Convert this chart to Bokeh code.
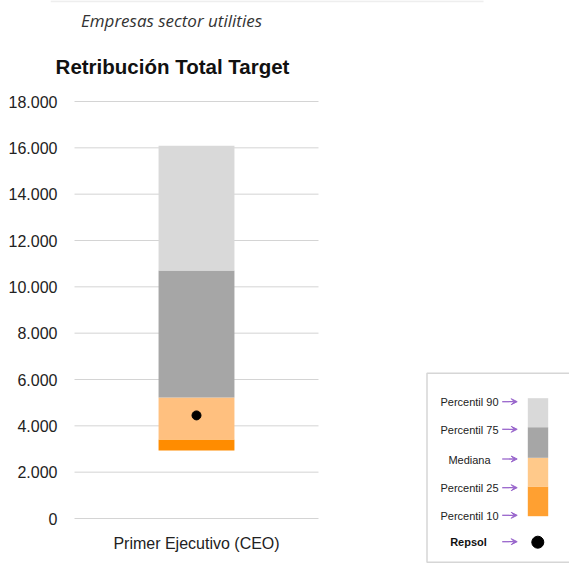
from bokeh.plotting import figure
from bokeh.models import Range1d, FixedTicker, Arrow, VeeHead, ColumnDataSource
from bokeh.core.properties import value
from bokeh.embed import file_html
from bokeh.resources import INLINE

# ---------------- data ----------------
category = ["Primer Ejecutivo (CEO)"]
percentile_names = ["Percentil 10", "Percentil 25", "Mediana", "Percentil 75", "Percentil 90"]
percentile_values = [2940, 3410, 5220, 10700, 16090]
repsol_value = [4450]
segment_colors = ["#ff8c00", "#ffc07f", "#a6a6a6", "#d9d9d9"]
legend_colors = ["#ffa031", "#ffc98a", "#a6a6a6", "#d9d9d9"]
y_ticks = [0, 2000, 4000, 6000, 8000, 10000, 12000, 14000, 16000, 18000]
y_tick_labels = ["0", "2.000", "4.000", "6.000", "8.000", "10.000", "12.000",
                 "14.000", "16.000", "18.000"]
legend_labels = ["Percentil 90", "Percentil 75", "Mediana", "Percentil 25", "Percentil 10", "Repsol"]
subtitle = "Empresas sector utilities"
title = "Retribución Total Target"

# ---------------- layout (pixels) ----------------
W, H = 569, 563
frame_left = 50
label_right = 57
chart_left, chart_right = 74, 318     # extent of the category band / gridlines
y0_px, y18_px = 518, 101              # pixel rows of value 0 and 18000
upp = 18000 / (y0_px - y18_px)        # value units per pixel
y_start = -(H - y0_px) * upp
y_end = 18000 + y18_px * upp
n = len(category)
xpp = n / (chart_right - chart_left)
x_start = -(chart_left - frame_left) * xpp
x_end = n + (W - chart_right) * xpp

p = figure(width=W, height=H, x_range=Range1d(x_start, x_end),
           y_range=Range1d(y_start, y_end), output_backend="svg",
           toolbar_location=None, min_border_left=frame_left, min_border_right=0,
           min_border_top=0, min_border_bottom=0, x_axis_location=None)
p.extra_x_ranges = {"px": Range1d(frame_left, W)}
p.extra_y_ranges = {"px": Range1d(H, 0)}
p.outline_line_color = None
p.background_fill_color = "white"
p.border_fill_color = "white"
p.grid.visible = False

# y axis
p.yaxis.ticker = FixedTicker(ticks=y_ticks)
p.yaxis.major_label_overrides = {t: l for t, l in zip(y_ticks, y_tick_labels)}
p.yaxis.axis_line_color = None
p.yaxis.major_tick_line_color = None
p.yaxis.major_tick_out = 0
p.yaxis.major_tick_in = 0
p.yaxis.minor_tick_line_color = None
p.yaxis.major_label_text_font = "Liberation Sans"
p.yaxis.major_label_text_font_size = "16px"
p.yaxis.major_label_text_color = "#222222"
p.yaxis.major_label_standoff = frame_left - label_right

# gridlines over the category band
p.segment(x0=[0] * len(y_ticks), x1=[n] * len(y_ticks), y0=y_ticks, y1=y_ticks,
          line_color="#d4d4d4", line_width=1)

# stacked percentile bar
xc = [i + 0.5 for i in range(n)]
lows = percentile_values[:-1]
highs = percentile_values[1:]
src = ColumnDataSource(dict(x=xc * 4, bottom=lows, top=highs, color=segment_colors))
p.vbar(x="x", bottom="bottom", top="top", width=0.311 * n, fill_color="color",
       line_color=None, source=src)
p.scatter(x=xc, y=repsol_value, size=9, color="black")

# category label
p.text(x=xc, y=[543], text=category, y_range_name="px", text_align="center",
       text_baseline="alphabetic", text_font=value("Liberation Sans"),
       text_font_size="16px", text_color="#222222")

# titles
p.segment(x0=[frame_left], x1=[483], y0=[0.8], y1=[0.8], x_range_name="px",
          y_range_name="px", line_color="#eeeeee", line_width=2)
p.text(x=[171], y=[19.5], text=[subtitle], x_range_name="px", y_range_name="px",
       text_align="center", text_baseline="alphabetic", text_font=value("Open Sans"),
       text_font_style="italic", text_font_size="17px", text_color="#333333")
p.text(x=[172], y=[66], text=[title], x_range_name="px", y_range_name="px",
       text_align="center", text_baseline="alphabetic",
       text_font=value("Liberation Sans"), text_font_style="bold",
       text_font_size="20.5px", text_color="#111111")

# ---------------- legend ----------------
p.quad(left=[426.5], right=[W + 5], top=[372.7], bottom=[561.7], x_range_name="px",
       y_range_name="px", fill_color=None, line_color="#d6d6d6", line_width=1.5)

text_y = [401.7, 429.3, 459.0, 487.7, 515.3, 541.7]
p.text(x=[469] * 5, y=text_y[:5], text=legend_labels[:5], x_range_name="px",
       y_range_name="px", text_align="center", text_baseline="middle",
       text_font=value("Liberation Sans"), text_font_size="11px", text_color="#222222")
p.text(x=[468], y=text_y[5:], text=legend_labels[5:], x_range_name="px",
       y_range_name="px", text_align="center", text_baseline="middle",
       text_font=value("Liberation Sans"), text_font_style="bold",
       text_font_size="11px", text_color="#111111")

arrow_src = ColumnDataSource(dict(x0=[501.7] * 6, x1=[516.7] * 6, y=[t - 0.5 for t in text_y]))
p.add_layout(Arrow(end=VeeHead(size=6, fill_color="#9966cc", line_color="#9966cc"),
                   x_start="x0", x_end="x1", y_start="y", y_end="y",
                   line_color="#9966cc", line_width=1.3, source=arrow_src,
                   x_range_name="px", y_range_name="px"))

bar_edges = [515.7, 486.0, 457.3, 426.7, 397.7]  # bottom (P10) to top (P90)
p.quad(left=[527.3] * 4, right=[547.7] * 4, bottom=bar_edges[:-1], top=bar_edges[1:],
       x_range_name="px", y_range_name="px", fill_color=legend_colors, line_color=None)
p.scatter(x=[537.3], y=[541.7], size=12, color="black", x_range_name="px",
          y_range_name="px")

open("out.html", "w").write(file_html(p, INLINE))
